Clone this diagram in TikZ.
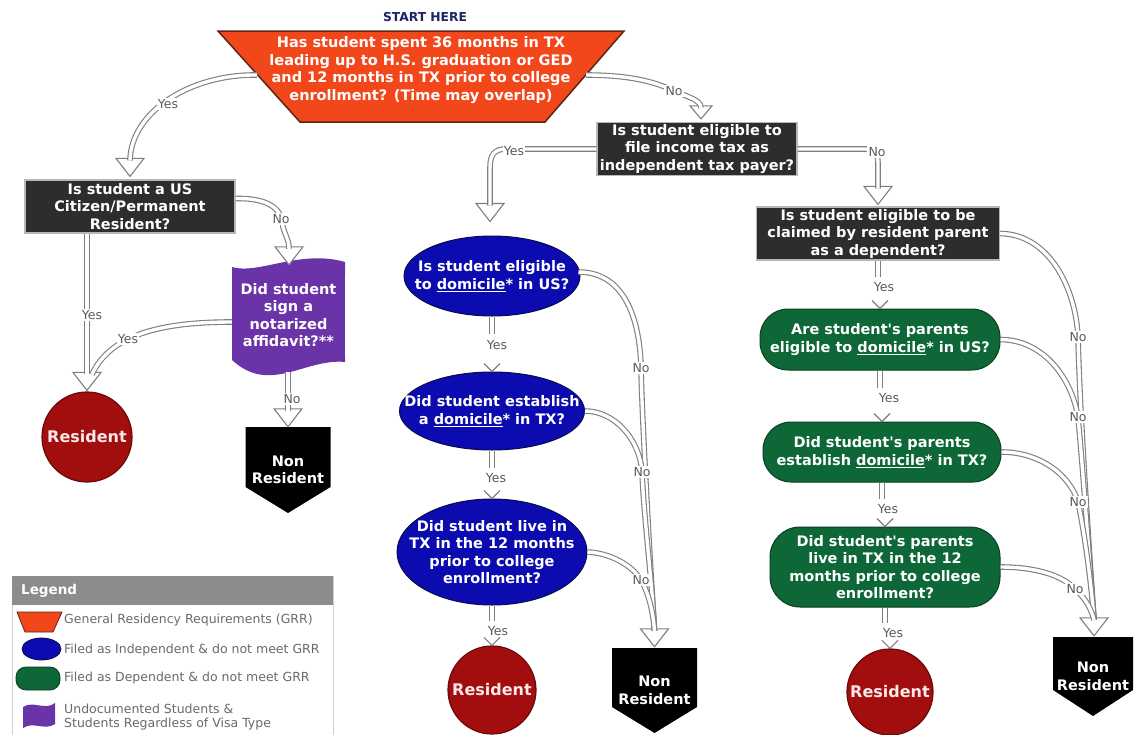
\documentclass[tikz,border=0pt]{standalone}
\usepackage{fontspec}
\setmainfont{DejaVu Sans}
\usetikzlibrary{calc,shapes.geometric}
\definecolor{grrfill}{HTML}{F2461B}
\definecolor{grrline}{HTML}{5C2614}
\definecolor{qfill}{HTML}{2D2D2D}
\definecolor{qline}{HTML}{B8B8B0}
\definecolor{indfill}{HTML}{0B0BB0}
\definecolor{indline}{HTML}{0A0A50}
\definecolor{depfill}{HTML}{0D6737}
\definecolor{depline}{HTML}{0A3F22}
\definecolor{undfill}{HTML}{6B33A8}
\definecolor{resfill}{HTML}{A20E0E}
\definecolor{resline}{HTML}{6A0808}
\definecolor{arrline}{HTML}{7E7E7E}
\definecolor{lbltext}{HTML}{5A5A5A}
\definecolor{navy}{HTML}{1E2466}
\definecolor{legtext}{HTML}{6A6A6A}
\definecolor{leghead}{HTML}{8C8C8C}
\definecolor{legline}{HTML}{CFCFCF}
\definecolor{restext}{HTML}{FBE9E9}
\newcommand{\bighead}[1]{\draw[headst] ($(#1)+(-14,-18)$) -- (#1) -- ($(#1)+(14,-18)$) -- cycle;}
\newcommand{\smallhead}[1]{\draw[headst] ($(#1)+(-11,-13)$) -- (#1) -- ($(#1)+(11,-13)$) -- cycle;}
\newcommand{\vchev}[1]{\draw[chevst] ($(#1)+(-8,-8)$) -- (#1) -- ($(#1)+(8,-8)$);}
\newcommand{\apos}{\textquotesingle}
\begin{document}
\begin{tikzpicture}[x=1pt,y=-1pt,
  qtext/.style={text=white, font=\bfseries\fontsize{14.5}{17.5}\selectfont, align=center, inner sep=0pt},
  qbox/.style={qtext, fill=qfill, draw=qline, line width=1.2pt},
  indell/.style={qtext, ellipse, fill=indfill, draw=indline, line width=1pt, inner sep=-40pt},
  depbox/.style={qtext, fill=depfill, draw=depline, line width=1pt, rounded corners=28},
  resnode/.style={circle, fill=resfill, draw=resline, line width=1.2pt, minimum size=90, inner sep=-30pt, text=restext, font=\bfseries\fontsize{16}{18}\selectfont},
  nrnode/.style={text=white, font=\bfseries\fontsize{14.5}{17.5}\selectfont, align=center, inner sep=0pt, minimum width=85},
  dbl/.style={draw=arrline, line width=1.1pt, double=white, double distance=3.4pt},
  headst/.style={draw=arrline, fill=white, line width=1.1pt, line join=miter},
  chevst/.style={draw=arrline, line width=1.1pt},
  lbl/.style={fill=white, inner sep=1.2pt, text=lbltext, font=\fontsize{12.5}{13}\selectfont},
  legt/.style={anchor=west, inner sep=0pt, text=legtext, align=left, font=\fontsize{12.5}{14}\selectfont}]
\fill[white] (0,0) rectangle (1135,734);
\useasboundingbox (0,0) rectangle (1135,734);

% ---------- legend ----------
\draw[legline, fill=white, line width=1pt] (12,576) rectangle (333,740);
\fill[leghead] (12,576) rectangle (333,605);
\node[anchor=west, inner sep=0pt, text=white, font=\bfseries\fontsize{13.5}{14}\selectfont] (legtitle) at (21,591) {Legend};
\filldraw[fill=grrfill, draw=grrline, line width=0.8pt] (17,612) -- (62,612) -- (53,632) -- (25,632) -- cycle;
\node[legt] (leg1) at (64,620) {General Residency Requirements (GRR)};
\filldraw[fill=indfill, draw=indline, line width=0.8pt] (41.5,649) ellipse [x radius=19.5, y radius=11];
\node[legt] (leg2) at (64,650) {Filed as Independent \& do not meet GRR};
\filldraw[fill=depfill, draw=depline, line width=0.8pt, rounded corners=10] (16,667) rectangle (60,690);
\node[legt] (leg3) at (64,678) {Filed as Dependent \& do not meet GRR};
\fill[undfill] (23,707) .. controls (33,700) and (45,711) .. (55,703) -- (55,724) .. controls (45,731) and (33,721) .. (23,728) -- cycle;
\node[legt] (leg4) at (64,717) {Undocumented Students \&\\Students Regardless of Visa Type};

% ---------- start ----------
\node[inner sep=0pt, text=navy, font=\bfseries\fontsize{12.3}{13}\selectfont] (starthere) at (425,17) {START HERE};
\filldraw[fill=grrfill, draw=grrline, line width=1.5pt] (218,31) -- (624,31) -- (545,122) -- (300,122) -- cycle;
\node[qtext] (start) at (421,70) {Has student spent 36 months in TX\\leading up to H.S. graduation or GED\\and 12 months in TX prior to college\\enrollment? (Time may overlap)};
\coordinate (tl) at (257,75);
\coordinate (tr) at (586,75);

% ---------- left column ----------
\node[qbox, minimum width=210, minimum height=53] (citizen) at (130,206.5) {Is student a US\\Citizen/Permanent\\Resident?};
\fill[undfill] (232,274) -- (232,267) .. controls (258,275) and (300,249) .. (345,262) -- (345,274) -- cycle;
\fill[undfill] (345,356) -- (345,362) .. controls (305,358) and (270,395) .. (232,360) -- (232,356) -- cycle;
\node[qtext, fill=undfill, minimum width=113, minimum height=86] (affid) at (288.5,315) {Did student\\sign a\\notarized\\affidavit?**};
\node[resnode] (res1) at (87,437) {Resident};
\fill[black] (245.5,427) -- (330.5,427) -- (330.5,487) -- (288,513) -- (245.5,487) -- cycle;
\node[nrnode, minimum height=86] (nr1) at (288,470) {Non\\Resident};

% ---------- middle column ----------
\node[qbox, minimum width=200, minimum height=53] (indep) at (697,149) {Is student eligible to\\file income tax as\\independent tax payer?};
\node[indell, minimum width=176, minimum height=80] (e1) at (492,276) {Is student eligible\\to \underline{domicile}* in US?};
\node[indell, minimum width=185, minimum height=78] (e2) at (492,411) {Did student establish\\a \underline{domicile}* in TX?};
\node[indell, minimum width=190, minimum height=106] (e3) at (492,552) {Did student live in\\TX in the 12 months\\prior to college\\enrollment?};
\node[resnode, minimum size=88] (res2) at (492,690) {Resident};
\fill[black] (612,648) -- (697,648) -- (697,707) -- (654.5,733) -- (612,707) -- cycle;
\node[nrnode, minimum height=85] (nr2) at (654.5,690.5) {Non\\Resident};

% ---------- right column ----------
\node[qbox, minimum width=243, minimum height=53] (claim) at (878,233.5) {Is student eligible to be\\claimed by resident parent\\as a dependent?};
\node[depbox, minimum width=240, minimum height=61] (green1) at (880,339.5) {Are student\apos s parents\\eligible to \underline{domicile}* in US?};
\node[depbox, minimum width=238, minimum height=60] (green2) at (882,452) {Did student\apos s parents\\establish \underline{domicile}* in TX?};
\node[depbox, minimum width=230, minimum height=80, rounded corners=30] (green3) at (885,567) {Did student\apos s parents\\live in TX in the 12\\months prior to college\\enrollment?};
\node[resnode, minimum size=86] (res3) at (890,692) {Resident};
\fill[black] (1053,637) -- (1133,637) -- (1133,690) -- (1093,716) -- (1053,690) -- cycle;
\node[nrnode, minimum width=80, minimum height=79] (nr3) at (1093,676.5) {Non\\Resident};

% ---------- arrow heads ----------
\coordinate (hcit) at ($(citizen.north)+(0,-3)$);
\coordinate (hcitT) at ($(hcit)+(0,-16)$);
\coordinate (hind) at ($(indep.north)+(4,-3)$);
\coordinate (hindT) at ($(hind)+(0,-11)$);
\coordinate (he1) at ($(e1.north)+(-2,-14)$);
\coordinate (he1T) at ($(he1)+(0,-16)$);
\coordinate (hclaim) at ($(claim.north)+(0,-2)$);
\coordinate (hclaimT) at ($(hclaim)+(0,-16)$);
\coordinate (hres1) at ($(res1.north)+(0,-1)$);
\coordinate (hres1T) at ($(hres1)+(0,-16)$);
\coordinate (haff) at ($(affid.north)+(0.5,-7)$);
\coordinate (haffT) at ($(haff)+(0,-16)$);
\coordinate (hnr1) at (nr1.north);
\coordinate (hnr1T) at ($(hnr1)+(0,-16)$);
\coordinate (hnr2) at ($(nr2.north)+(0,-1)$);
\coordinate (hnr2T) at ($(hnr2)+(0,-16)$);
\coordinate (hnr3) at ($(nr3.north)+(1,-1)$);
\coordinate (hnr3T) at ($(hnr3)+(0,-16)$);
\bighead{hcit}
\smallhead{hind}
\bighead{he1}
\bighead{hclaim}
\bighead{hres1}
\bighead{haff}
\bighead{hnr1}
\bighead{hnr2}
\bighead{hnr3}

% ---------- connectors ----------
\draw[dbl] (tl) .. controls (190,74) and (131,112) .. (hcitT);
\draw[dbl] (tr) .. controls (630,75) and (655,82) .. (672,90) .. controls (688,97) and (701,100) .. (hindT);
\draw[dbl] (indep.west) -- (506,149) .. controls (494,149) and (490,155) .. (490,168) -- (he1T);
\draw[dbl] (indep.east) -- (866,149) .. controls (874,149) and (878,154) .. (878,163) -- (hclaimT);
\draw[dbl] (citizen.south -| hres1) -- (hres1T);
\draw[dbl] ($(citizen.east)+(0,-8)$) .. controls (262,198) and (280,205) .. (282,222) .. controls (284,235) and (289,238) .. (haffT);
\draw[dbl] ($(affid.west)+(0,7)$) .. controls (160,322) and (110,335) .. ($(hres1T)+(5,0)$);
\draw[dbl] ($(affid.south)+(-0.5,14)$) -- (hnr1T);
% middle No
\draw[dbl] ($(e1.east)+(-2,-4)$) .. controls (625,272) and (640,320) .. (641,368) .. controls (642,420) and (650,560) .. (hnr2T);
\draw[dbl] (e2.east) .. controls (615,411) and (640,440) .. (642,472) .. controls (644,520) and (652,580) .. (hnr2T);
\draw[dbl] (e3.east) .. controls (610,553) and (632,565) .. (641,580) .. controls (648,592) and (653,610) .. (hnr2T);
% right No
\draw[dbl] (claim.east) .. controls (1050,234) and (1076,290) .. (1078,337) .. controls (1080,420) and (1090,560) .. (hnr3T);
\draw[dbl] (green1.east) .. controls (1045,340) and (1072,380) .. (1078,417) .. controls (1083,470) and (1090,570) .. (hnr3T);
\draw[dbl] (green2.east) .. controls (1040,452) and (1070,475) .. (1078,502) .. controls (1084,530) and (1091,580) .. (hnr3T);
\draw[dbl] (green3.east) .. controls (1035,567) and (1062,575) .. (1075,589) .. controls (1085,598) and (1091,608) .. (hnr3T);
% Yes chevrons
\draw[dbl] (e1.south) -- ++(0,17);
\vchev{e2.north}
\draw[dbl] (e2.south) -- ++(0,17);
\vchev{e3.north}
\draw[dbl] (e3.south) -- ++(0,15);
\vchev{res2.north}
\draw[dbl] (claim.south) -- ++(0,16);
\vchev{green1.north}
\draw[dbl] (green1.south) -- ++(0,17);
\vchev{green2.north}
\draw[dbl] (green2.south) -- ++(0,16);
\vchev{green3.north}
\draw[dbl] (green3.south) -- ++(0,15);
\vchev{res3.north}

% ---------- labels ----------
\node[lbl] (y1) at (168,104) {Yes};
\node[lbl] (n1) at (674,91) {No};
\node[lbl] (y2) at (514,151) {Yes};
\node[lbl] (n2) at (877,152) {No};
\node[lbl] (y3) at (92,315) {Yes};
\node[lbl] (n3) at (281,219) {No};
\node[lbl] (y4) at (128,339) {Yes};
\node[lbl] (n4) at (292,399) {No};
\node[lbl] (n5) at (641,368) {No};
\node[lbl] (n6) at (642,472) {No};
\node[lbl] (n7) at (641,580) {No};
\node[lbl] (n8) at (1078,337) {No};
\node[lbl] (n9) at (1078,417) {No};
\node[lbl] (n10) at (1078,502) {No};
\node[lbl] (n11) at (1075,589) {No};
\node[lbl] (y5) at (497,345) {Yes};
\node[lbl] (y6) at (496,478) {Yes};
\node[lbl] (y7) at (498,631) {Yes};
\node[lbl] (y8) at (884,287) {Yes};
\node[lbl] (y9) at (889,398) {Yes};
\node[lbl] (y10) at (888,509) {Yes};
\node[lbl] (y11) at (893,633) {Yes};
\end{tikzpicture}
\end{document}
